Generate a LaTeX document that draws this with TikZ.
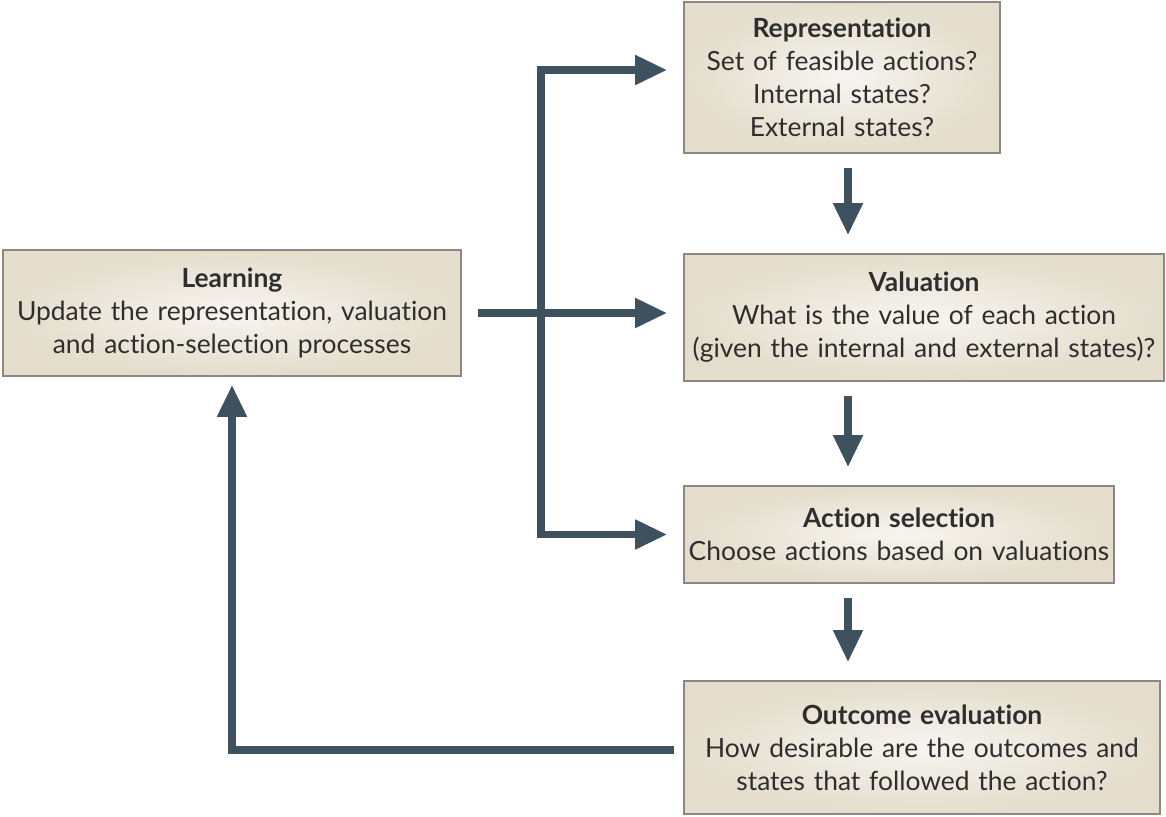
\documentclass[tikz,border=0pt]{standalone}
\usepackage{fontspec}
\setmainfont{Lato}[Ligatures={TeX,NoCommon}]
\usetikzlibrary{arrows.meta, positioning, calc}

\definecolor{boxfill}{HTML}{E4DDCC}
\definecolor{boxline}{HTML}{8C8880}
\definecolor{flowcol}{HTML}{3D525E}
\definecolor{inkcol}{HTML}{2E2E2E}

\begin{document}
\begin{tikzpicture}[x=0.5pt, y=-0.5pt,
    stage/.style={draw=boxline, line width=0.8pt, inner color=boxfill!30!white, outer color=boxfill,
        text=inkcol, inner sep=0pt, align=center, font=\fontsize{13.2}{16.5}\selectfont},
    flow/.style={draw=flowcol, line width=3.8pt, line join=miter, -{Triangle[length=16pt, width=14pt]}}]
    \useasboundingbox (0,0) rectangle (1166,816);

    % Stages
    \node[stage, text width=158pt, minimum height=75.5pt] (rep) at (842,77.5)
        {\textbf{Representation}\\Set of feasible actions?\\Internal states?\\External states?};
    \node[stage, text width=240pt, minimum height=63.5pt] (val) at (924,317.5)
        {\textbf{Valuation}\\What is the value of each action\\(given the internal and external states)?};
    \node[stage, text width=215pt, minimum height=48.5pt] (act) at (899,534.5)
        {\textbf{Action selection}\\Choose actions based on valuations};
    \node[stage, text width=238pt, minimum height=66.5pt] (out) at (922,747.5)
        {\textbf{Outcome evaluation}\\How desirable are the outcomes and\\states that followed the action?};
    \node[stage, text width=229pt, minimum height=63pt] (learn) at (232,313)
        {\textbf{Learning}\\Update the representation, valuation\\and action-selection processes};

    % Helper points
    \coordinate (bus) at (541,313);
    \coordinate (spine) at (848,0);

    % Learning feeds the three stages
    \draw[flow, shorten <=8pt, shorten >=8pt] (learn.east) -- (learn.east -| val.west);
    \draw[flow, shorten >=8pt] (bus) |- ([yshift=3.75pt]rep.west);
    \draw[flow, shorten >=8pt] (bus) |- (act.west);

    % Main sequence
    \foreach \a/\b in {rep/val, val/act, act/out}
        \draw[flow, shorten <=7pt, shorten >=9pt] (\a.south -| spine) -- (\b.north -| spine);

    % Feedback to learning
    \draw[flow, shorten <=4.5pt, shorten >=4pt] ([yshift=-1.25pt]out.west) -| (learn.south);
\end{tikzpicture}
\end{document}
